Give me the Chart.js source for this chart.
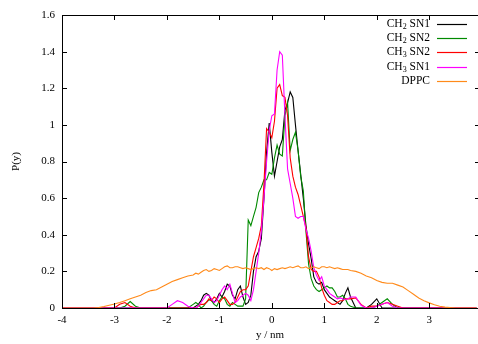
<!DOCTYPE html>
<html>
<head>
<meta charset="utf-8">
<script src="https://cdn.jsdelivr.net/npm/chart.js@4.4.1/dist/chart.umd.min.js"></script>
<style>
  html, body { margin: 0; padding: 0; background: #fff; }
  #wrap { width: 478px; height: 344px; }
</style>
</head>
<body>
<div id="wrap"><canvas id="densityChart" width="478" height="344"></canvas></div>
<script>
// y positions (nm): coarse tails, finer grid through the bilayer centre
const yPos = [
  -4.0, -3.9, -3.8, -3.7, -3.6, -3.5, -3.4, -3.3, -3.2, -3.1, -3.0, -2.9, -2.8,
  -2.7, -2.6, -2.5, -2.4, -2.3, -2.2, -2.1, -2.0, -1.9, -1.8, -1.7, -1.6,
  -1.5, -1.45, -1.4, -1.35, -1.3, -1.25, -1.2, -1.15, -1.1, -1.05, -1.0, -0.95,
  -0.9, -0.85, -0.8, -0.75, -0.7, -0.65, -0.6, -0.55, -0.5, -0.45, -0.4, -0.35,
  -0.3, -0.25, -0.2, -0.15, -0.1, -0.05, 0, 0.05, 0.1, 0.15, 0.2, 0.25,
  0.3, 0.35, 0.4, 0.45, 0.5, 0.55, 0.6, 0.65, 0.7, 0.75, 0.8, 0.85,
  0.9, 0.95, 1.0, 1.05, 1.1, 1.15, 1.2, 1.25, 1.3, 1.35, 1.4, 1.45, 1.5,
  1.6, 1.7, 1.8, 1.9, 2.0, 2.1, 2.2, 2.3, 2.4, 2.5, 2.6, 2.7, 2.8, 2.9, 3.0,
  3.1, 3.2, 3.3, 3.4, 3.5, 3.6, 3.7, 3.8, 3.9
];

const ch2sn1 = [
  0, 0, 0, 0, 0, 0, 0, 0, 0, 0, 0, 0, 0,
  0, 0, 0, 0, 0, 0, 0, 0, 0, 0, 0, 0,
  0, 0.01, 0.02, 0.04, 0.07, 0.08, 0.07, 0.04, 0.03, 0.05, 0.08, 0.06,
  0.09, 0.13, 0.12, 0.07, 0.05, 0.10, 0.12, 0.06, 0.02, 0.03, 0.07, 0.20,
  0.28, 0.31, 0.38, 0.60, 0.85, 1.01, 0.85, 0.72, 0.80, 0.88, 0.92, 1.08,
  1.12, 1.18, 1.15, 1.00, 0.86, 0.73, 0.60, 0.45, 0.35, 0.27, 0.17, 0.14,
  0.13, 0.14, 0.10, 0.08, 0.06, 0.05, 0.04, 0.03, 0.02, 0.04, 0.08, 0.11, 0.06,
  0, 0, 0, 0.02, 0.05, 0, 0, 0, 0, 0, 0, 0, 0, 0, 0,
  0, 0, 0, 0, 0, 0, 0, 0, 0
];

const ch2sn2 = [
  0, 0, 0, 0, 0, 0, 0, 0, 0, 0, 0, 0, 0.01,
  0.035, 0.01, 0, 0, 0, 0, 0, 0, 0, 0, 0, 0,
  0.02, 0.03, 0.02, 0, 0.01, 0.03, 0.045, 0.04, 0.02, 0.01, 0.04, 0.06,
  0.05, 0.02, 0.01, 0.03, 0.02, 0.01, 0.01, 0.01, 0.05, 0.48, 0.45, 0.50,
  0.55, 0.63, 0.66, 0.70, 0.70, 0.74, 0.73, 0.82, 0.89, 0.84, 0.83, 1.05,
  1.12, 0.86, 0.92, 0.96, 0.86, 0.72, 0.64, 0.42, 0.24, 0.16, 0.12, 0.10,
  0.09, 0.10, 0.11, 0.12, 0.11, 0.11, 0.09, 0.06, 0.06, 0.07, 0.05, 0.02, 0.01,
  0, 0, 0, 0, 0.01, 0.03, 0.05, 0.02, 0, 0, 0, 0, 0, 0, 0,
  0, 0, 0, 0, 0, 0, 0, 0, 0
];

const ch3sn2 = [
  0, 0, 0, 0, 0, 0, 0, 0, 0, 0, 0, 0.02, 0.03,
  0.01, 0, 0, 0, 0, 0, 0, 0, 0, 0, 0, 0,
  0, 0, 0.01, 0.02, 0.02, 0.03, 0.05, 0.04, 0.06, 0.05, 0.03, 0.05,
  0.06, 0.04, 0.02, 0.02, 0.03, 0.06, 0.09, 0.10, 0.10, 0.12, 0.20, 0.28,
  0.33, 0.38, 0.45, 0.68, 0.98, 0.96, 0.93, 1.02, 1.20, 1.22, 1.16, 1.15,
  1.05, 0.82, 0.72, 0.66, 0.62, 0.56, 0.50, 0.44, 0.28, 0.21, 0.20, 0.20,
  0.17, 0.11, 0.07, 0.04, 0.03, 0.02, 0.02, 0.03, 0.04, 0.04, 0.05, 0.05, 0.05,
  0.055, 0.02, 0, 0.01, 0.01, 0.02, 0.03, 0.02, 0.01, 0, 0, 0, 0, 0, 0,
  0, 0, 0, 0, 0, 0, 0, 0, 0
];

const ch3sn1 = [
  0, 0, 0, 0, 0, 0, 0, 0, 0, 0, 0, 0, 0,
  0, 0, 0, 0, 0, 0, 0, 0, 0.02, 0.04, 0.03, 0.01,
  0, 0, 0.01, 0.03, 0.05, 0.07, 0.07, 0.05, 0.03, 0.04, 0.07, 0.10,
  0.12, 0.10, 0.13, 0.08, 0.03, 0.04, 0.06, 0.07, 0.08, 0.07, 0.04, 0.10,
  0.20, 0.30, 0.42, 0.60, 0.80, 0.97, 1.05, 1.06, 1.30, 1.40, 1.38, 1.05,
  0.76, 0.68, 0.60, 0.50, 0.49, 0.50, 0.50, 0.43, 0.38, 0.31, 0.22, 0.18,
  0.15, 0.17, 0.12, 0.10, 0.08, 0.07, 0.06, 0.05, 0.055, 0.05, 0.045, 0.05, 0.06,
  0.06, 0.015, 0, 0, 0.01, 0.02, 0.03, 0.01, 0, 0, 0, 0, 0, 0, 0,
  0, 0, 0, 0, 0, 0, 0, 0, 0
];

const dppc = [
  0, 0, 0, 0, 0, 0, 0, 0.002, 0.008, 0.015, 0.022, 0.03, 0.04,
  0.05, 0.06, 0.07, 0.085, 0.095, 0.10, 0.115, 0.13, 0.145, 0.155, 0.165, 0.175,
  0.18, 0.19, 0.185, 0.195, 0.205, 0.21, 0.20, 0.205, 0.215, 0.21, 0.205, 0.215,
  0.225, 0.23, 0.22, 0.22, 0.225, 0.225, 0.22, 0.215, 0.22, 0.215, 0.21, 0.215,
  0.22, 0.215, 0.22, 0.21, 0.22, 0.215, 0.205, 0.215, 0.21, 0.215, 0.22, 0.215,
  0.22, 0.225, 0.22, 0.225, 0.23, 0.22, 0.22, 0.225, 0.215, 0.22, 0.225, 0.22,
  0.215, 0.225, 0.225, 0.22, 0.225, 0.22, 0.215, 0.22, 0.215, 0.21, 0.21, 0.21, 0.205,
  0.20, 0.19, 0.175, 0.165, 0.15, 0.14, 0.135, 0.135, 0.125, 0.115, 0.095, 0.075, 0.055, 0.04, 0.028,
  0.018, 0.01, 0.005, 0.002, 0, 0, 0, 0, 0
];

const seriesLabels = ['CH\u2082 SN1', 'CH\u2082 SN2', 'CH\u2083 SN2', 'CH\u2083 SN1', 'DPPC'];
const seriesColors = ['#000000', '#008a00', '#ff0000', '#ff00ff', '#ff8a1a'];
const xTicks = [-4, -3, -2, -1, 0, 1, 2, 3];
const yTicks = [0, 0.2, 0.4, 0.6, 0.8, 1, 1.2, 1.4, 1.6];

const serif = "'Liberation Serif', 'DejaVu Serif', serif";
Chart.defaults.font.family = serif;
Chart.defaults.font.size = 11;
Chart.defaults.color = '#000';

function toPoints(values) {
  return values.map((v, i) => ({ x: yPos[i], y: v }));
}

const allSeries = [ch2sn1, ch2sn2, ch3sn2, ch3sn1, dppc];

// gnuplot-style frame with inward tics on all four sides
const frameTics = {
  id: 'frameTics',
  afterDatasetsDraw(chart) {
    const { ctx, chartArea: a, scales } = chart;
    ctx.save();
    ctx.strokeStyle = '#000';
    ctx.lineWidth = 1;
    ctx.beginPath();
    ctx.moveTo(a.right, a.top + 0.5);
    ctx.lineTo(a.left + 0.5, a.top + 0.5);
    ctx.lineTo(a.left + 0.5, a.bottom + 0.5);
    ctx.lineTo(a.right, a.bottom + 0.5);
    ctx.stroke();
    ctx.beginPath();
    xTicks.forEach(v => {
      const px = Math.round(scales.x.getPixelForValue(v)) + 0.5;
      ctx.moveTo(px, a.bottom); ctx.lineTo(px, a.bottom - 5);
      ctx.moveTo(px, a.top); ctx.lineTo(px, a.top + 5);
    });
    yTicks.forEach(v => {
      const py = Math.round(scales.y.getPixelForValue(v)) + 0.5;
      ctx.moveTo(a.left, py); ctx.lineTo(a.left + 5, py);
      ctx.moveTo(a.right, py); ctx.lineTo(a.right - 3, py);
    });
    ctx.stroke();
    ctx.restore();
  }
};

// draw a label, turning unicode subscript digits into small lowered digits
const subDigits = { '\u2082': '2', '\u2083': '3' };
function labelWidth(ctx, text) {
  let w = 0;
  for (const ch of text) {
    ctx.font = (subDigits[ch] ? '8px ' : '11.5px ') + serif;
    w += ctx.measureText(subDigits[ch] || ch).width;
  }
  return w;
}
function drawLabel(ctx, text, xRight, y) {
  let x = xRight - labelWidth(ctx, text);
  for (const ch of text) {
    const sub = subDigits[ch];
    ctx.font = (sub ? '8px ' : '11.5px ') + serif;
    ctx.fillText(sub || ch, x, sub ? y + 3 : y);
    x += ctx.measureText(sub || ch).width;
  }
}

// key in the top right corner: label right-aligned, sample line after it
const keyBox = {
  id: 'keyBox',
  afterDraw(chart) {
    const ctx = chart.ctx;
    ctx.save();
    ctx.textAlign = 'left';
    ctx.textBaseline = 'middle';
    chart.data.datasets.forEach((ds, i) => {
      const y = 24 + i * 14.2;
      ctx.fillStyle = '#000';
      drawLabel(ctx, ds.label, 430, y);
      ctx.strokeStyle = ds.borderColor;
      ctx.lineWidth = 1.2;
      ctx.beginPath();
      ctx.moveTo(437, Math.round(y) + 0.5);
      ctx.lineTo(467, Math.round(y) + 0.5);
      ctx.stroke();
    });
    ctx.restore();
  }
};

new Chart(document.getElementById('densityChart').getContext('2d'), {
  type: 'line',
  data: {
    datasets: allSeries.map((vals, i) => ({
      label: seriesLabels[i],
      data: toPoints(vals),
      borderColor: seriesColors[i],
      backgroundColor: seriesColors[i],
      borderWidth: 1.1,
      pointRadius: 0,
      tension: 0,
      fill: false,
      order: allSeries.length - i
    }))
  },
  options: {
    responsive: false,
    animation: false,
    devicePixelRatio: 1,
    layout: { padding: { top: 15, right: 0, left: 0, bottom: 0 } },
    plugins: { legend: { display: false }, tooltip: { enabled: false } },
    scales: {
      x: {
        type: 'linear',
        min: -4,
        max: 3.93,
        grid: { display: false, drawTicks: false },
        border: { display: false },
        afterBuildTicks: s => { s.ticks = xTicks.map(v => ({ value: v })); },
        afterFit: s => { s.height = 36; },
        ticks: { padding: 6, maxRotation: 0, callback: v => String(v) },
        title: { display: true, text: 'y / nm', padding: { top: 0, bottom: 2 } }
      },
      y: {
        type: 'linear',
        min: 0,
        max: 1.6,
        grid: { display: false, drawTicks: false },
        border: { display: false },
        afterBuildTicks: s => { s.ticks = yTicks.map(v => ({ value: v })); },
        afterFit: s => { s.width = 62; },
        ticks: { padding: 7, callback: v => String(v) },
        title: { display: true, text: 'P(y)', padding: { top: 10, bottom: 0 } }
      }
    }
  },
  plugins: [frameTics, keyBox]
});
</script>
</body>
</html>
